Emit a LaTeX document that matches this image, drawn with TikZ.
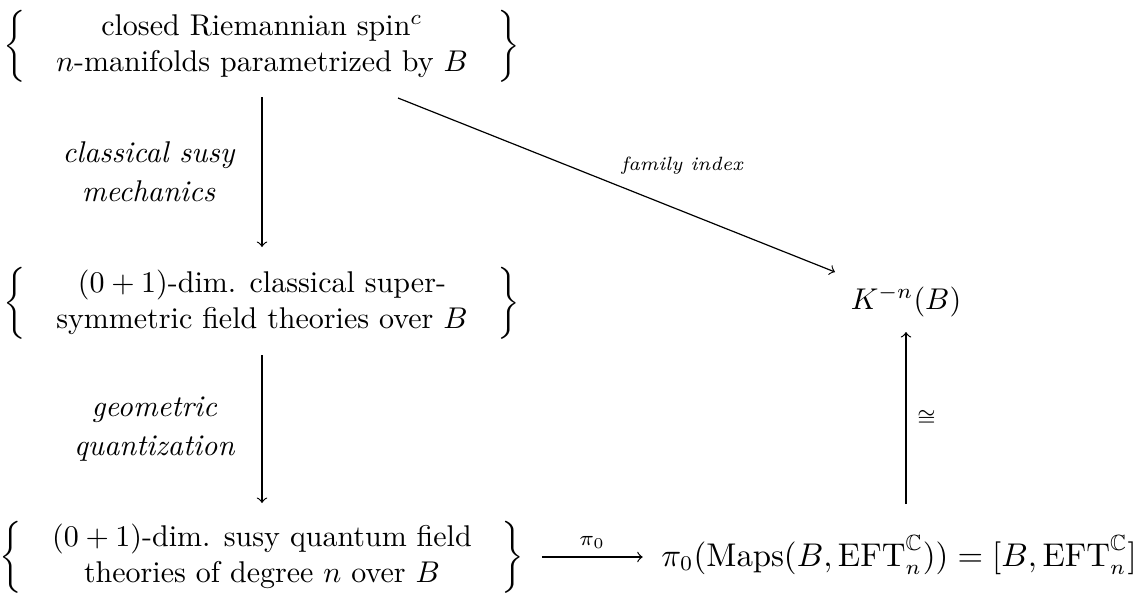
\documentclass[tikz,border=0pt]{standalone}
\usepackage{amsmath,amssymb}
\usetikzlibrary{calc}
\begin{document}
\begin{tikzpicture}[x=0.3333pt,y=-0.3333pt, >=to,
  every node/.style={inner sep=0pt},
  conn/.style={->, line width=0.4pt},
  vlab/.style={font=\itshape, align=center},
  tiny/.style={font=\scriptsize}]
\useasboundingbox (0,0) rectangle (1140,598);
\node (A) at (262,46) {$\left\{\begin{tabular}{@{\quad}c@{\quad}}closed Riemannian spin$^c$\\ $n$-manifolds parametrized by $B$\end{tabular}\right\}$};
\node (B) at (262,303) {$\left\{\begin{tabular}{@{\quad}c@{\quad}}$(0+1)$-dim. classical super-\\ symmetric field theories over $B$\end{tabular}\right\}$};
\node (C) at (262,557) {$\left\{\begin{tabular}{@{\quad}c@{\quad}}$(0+1)$-dim. susy quantum field\\ theories of degree $n$ over $B$\end{tabular}\right\}$};
\node (K) at (906,301) {$K^{-n}(B)$};
\node[font=\fontsize{10.5}{12.5}\selectfont] (D) at (899,555) {$\pi_0(\mathrm{Maps}(B,\mathrm{EFT}^{\mathbb{C}}_n)) = [B,\mathrm{EFT}^{\mathbb{C}}_n]$};

\draw[conn] ($(A.center)+(0,51)$) -- node[midway, left=9pt, vlab] {classical susy\\[1pt] mechanics} ($(B.center)+(0,-56)$);
\draw[conn] ($(B.center)+(0,52)$) -- node[midway, left=9pt, vlab] {geometric\\[1pt] quantization} ($(C.center)+(0,-54)$);
\draw[conn] ($(C.east)+(17,0)$) -- node[midway, above=2.5pt, tiny] {$\pi_0$} ($(C.east -| D.west)+(-18,0)$);
\draw[conn] ($(K.center |- D.north)+(0,-31)$) -- node[midway, right=3.5pt, tiny] {$\cong$} ($(K.center)+(0,31)$);
\draw[conn] ($(A.center)+(136,52)$) -- node[pos=0.65, above=12pt, font=\fontsize{6.4}{7.5}\selectfont\itshape] {family index} ($(K.center)+(-71,-29)$);
\end{tikzpicture}
\end{document}
